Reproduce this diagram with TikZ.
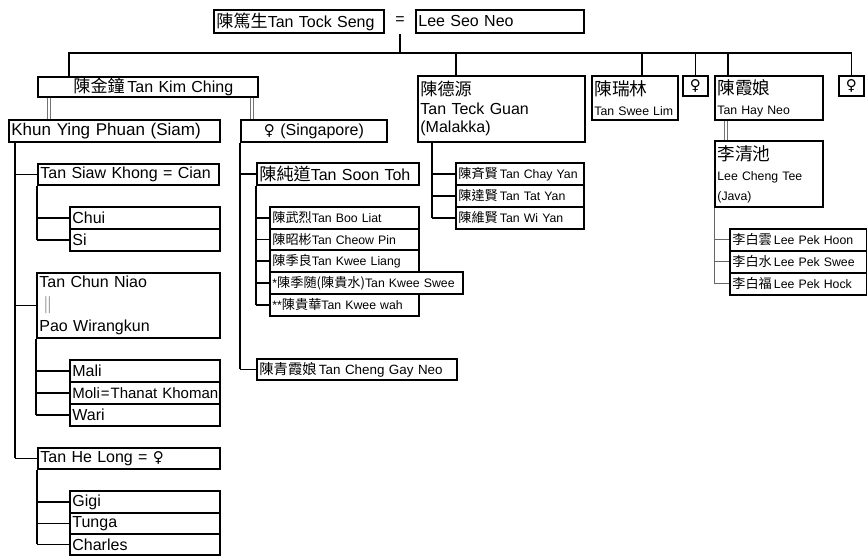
\documentclass[tikz,border=0pt]{standalone}
\usepackage{fontspec}
\setmainfont{Liberation Sans}
\newfontfamily\cjk[Scale=1.07]{Noto Sans CJK TC}
\newfontfamily\symf{DejaVu Sans}
\usetikzlibrary{calc}
\newcommand{\Lg}{\fontsize{16}{19}\selectfont}
\newcommand{\Sm}{\fontsize{12.3}{15}\selectfont}
\newcommand{\fem}{{\symf\fontsize{15}{15}\selectfont ♀}}
\newcommand{\famnode}[6][]{\node[famb, minimum width=#4pt, minimum height=#5pt, text width=\the\numexpr#4-5\relax pt, #1] (#2) at (#3) {#6};}
\tikzset{
  famb/.style={draw, line width=1.8pt, anchor=north west, inner xsep=2.5pt, inner ysep=0pt, align=left, font=\Lg},
  conn/.style={line width=1.2pt},
  gconn/.style={draw=black!60, line width=1pt},
  dbl/.style={draw=black!55, line width=0.8pt},
}
\begin{document}
\begin{tikzpicture}[x=1pt,y=-1pt]
\useasboundingbox (0,0) rectangle (867,555);
% top couple
\famnode{tts}{213,9}{170}{23}{{\cjk 陳篤生}Tan Tock Seng}
\node[font=\Lg, minimum height=26pt, inner sep=0pt] (eq) at (400,21) {=};
\famnode{lsn}{415,9}{168}{23}{Lee Seo Neo}
% children
\famnode{tkc}{37,76}{220}{20}{\hspace*{33pt}{\cjk 陳金鐘}\,Tan Kim Ching}
\famnode[font=\fontsize{16}{18.5}\selectfont]{tkg}{417,75}{167}{66}{{\cjk 陳德源}\\Tan Teck Guan\\(Malakka)}
\famnode[font=\fontsize{12.3}{20}\selectfont]{tsl}{591,75}{86}{44}{{\cjk\fontsize{16.5}{20}\selectfont 陳瑞林}\\Tan Swee Lim}
\famnode[align=center]{f1}{682,75}{25}{20}{\fem}
\famnode[font=\fontsize{12.3}{20}\selectfont]{thn}{714,75}{108}{44}{{\cjk\fontsize{16.5}{20}\selectfont 陳霞娘}\\Tan Hay Neo}
\famnode[align=center]{f2}{838,75}{25}{20}{\fem}
% Kim Ching's wives
\famnode[font=\fontsize{17}{20}\selectfont]{kyp}{8,119}{211}{22}{Khun Ying Phuan (Siam)}
\famnode[align=center]{fsg}{240,119}{146}{22}{\fem\ (Singapore)}
% Siam branch
\famnode{tsk}{37,163}{181}{21}{Tan Siaw Khong = Cian}
\famnode{chui}{69,206}{150}{22}{Chui}
\famnode{si}{69,228}{150}{22}{Si}
\famnode[font=\fontsize{16}{22}\selectfont]{tcn}{36,272}{183}{65}{Tan Chun Niao\\\hspace*{4pt}{\color{black!60}$\|$}\\Pao Wirangkun}
\famnode{mali}{69,359}{150}{22}{Mali}
\famnode[font=\fontsize{15}{18}\selectfont]{moli}{69,381}{150}{22}{\mbox{Moli\kern1pt=\kern1pt Thanat Khoman}}
\famnode{wari}{69,403}{150}{22}{Wari}
\famnode{thl}{37,447}{182}{21}{Tan He Long = \fem}
\famnode{gigi}{69,490}{150}{22}{Gigi}
\famnode{tunga}{69,512}{150}{21}{Tunga}
\famnode{charles}{69,533}{150}{21}{Charles}
% Singapore branch
\famnode{tst}{256,162}{162}{22}{{\cjk 陳純道}Tan Soon Toh}
\famnode[font=\Sm]{tbl}{269,206}{149}{22}{{\cjk 陳武烈}Tan Boo Liat}
\famnode[font=\Sm]{tcp}{269,228}{149}{21}{{\cjk 陳昭彬}Tan Cheow Pin}
\famnode[font=\Sm]{tkl}{269,249}{149}{22}{{\cjk 陳季良}Tan Kwee Liang}
\famnode[font=\Sm]{tks}{269,271}{193}{22}{\mbox{*{\cjk 陳季随(陳貴水)}Tan Kwee Swee}}
\famnode[font=\Sm]{tkw}{269,293}{149}{22}{**{\cjk 陳貴華}Tan Kwee wah}
\famnode[font=\fontsize{13.4}{16}\selectfont]{tcgn}{256,358}{200}{21}{{\cjk 陳青霞娘}\,Tan Cheng Gay Neo}
% Malakka branch
\famnode[font=\Sm]{tcy}{455,162}{128}{22}{{\cjk 陳斉賢}\,Tan Chay Yan}
\famnode[font=\Sm]{tty}{455,184}{128}{22}{{\cjk 陳達賢}\,Tan Tat Yan}
\famnode[font=\Sm]{twy}{455,206}{128}{22}{{\cjk 陳維賢}\,Tan Wi Yan}
% Java branch
\famnode[font=\fontsize{12.3}{20}\selectfont]{lct}{714,140}{108}{66}{{\cjk\fontsize{16.5}{20}\selectfont 李清池}\\Lee Cheng Tee\\(Java)}
\famnode[font=\Sm]{lph}{729,228}{137}{22}{{\cjk 李白雲}\,Lee Pek Hoon}
\famnode[font=\Sm]{lps}{729,250}{137}{22}{{\cjk 李白水}\,Lee Pek Swee}
\famnode[font=\Sm]{lphk}{729,272}{137}{22}{{\cjk 李白福}\,Lee Pek Hock}

% connectors: top bus
\coordinate (busL) at (69,53);
\coordinate (d2) at (456,53);
\coordinate (d3) at (642,53);
\coordinate (d5) at (728,53);
\draw[conn] (eq.south) -- (eq.south |- busL);
\draw[conn] (busL |- tkc.north) -- (busL) -- (f2.north |- busL) -- (f2.north);
\draw[conn] (d2) -- (d2 |- tkg.north);
\draw[conn] (d3) -- (d3 |- tsl.north);
\draw[conn] (f1.north |- busL) -- (f1.north);
\draw[conn] (d5) -- (d5 |- thn.north);
% marriage double lines
\foreach \s in {10,13} \draw[dbl] ([xshift=\s pt]tkc.south west) -- ([xshift=\s pt]tkc.south west |- kyp.north);
\foreach \s in {10,13} \draw[dbl] ([xshift=\s pt]fsg.north west) -- ([xshift=\s pt]fsg.north west |- tkc.south);
\foreach \s in {10.5,13.5} \draw[dbl] ([xshift=\s pt]thn.south west) -- ([xshift=\s pt]thn.south west |- lct.north);
% Siam trunk
\coordinate (kt) at ([xshift=7pt]kyp.south west);
\draw[conn] (kt) -- (kt |- thl.west);
\foreach \n in {tsk,tcn,thl} \draw[conn] (kt |- \n.west) -- (\n.west);
\draw[conn] (tsk.south west) -- (tsk.south west |- si.west);
\foreach \n in {chui,si} \draw[conn] (tsk.south west |- \n.west) -- (\n.west);
\draw[conn] (tcn.south west) -- (tcn.south west |- wari.west);
\foreach \n in {mali,moli,wari} \draw[conn] (tcn.south west |- \n.west) -- (\n.west);
\draw[conn] (thl.south west) -- (thl.south west |- charles.west);
\foreach \n in {gigi,tunga,charles} \draw[conn] (thl.south west |- \n.west) -- (\n.west);
% Singapore trunk
\draw[conn] (fsg.south west) -- (fsg.south west |- tcgn.west);
\foreach \n in {tst,tcgn} \draw[conn] (fsg.south west |- \n.west) -- (\n.west);
\draw[conn] (tst.south west) -- (tst.south west |- tkw.west);
\foreach \n in {tbl,tcp,tkl,tks,tkw} \draw[conn] (tst.south west |- \n.west) -- (\n.west);
% Malakka trunk
\coordinate (mt) at ([xshift=15pt]tkg.south west);
\draw[conn] (mt) -- (mt |- twy.west);
\foreach \n in {tcy,tty,twy} \draw[conn] (mt |- \n.west) -- (\n.west);
% Java trunk
\draw[gconn] (lct.south west) -- (lct.south west |- lphk.west);
\foreach \n in {lph,lps,lphk} \draw[gconn] (lct.south west |- \n.west) -- (\n.west);
\end{tikzpicture}
\end{document}
